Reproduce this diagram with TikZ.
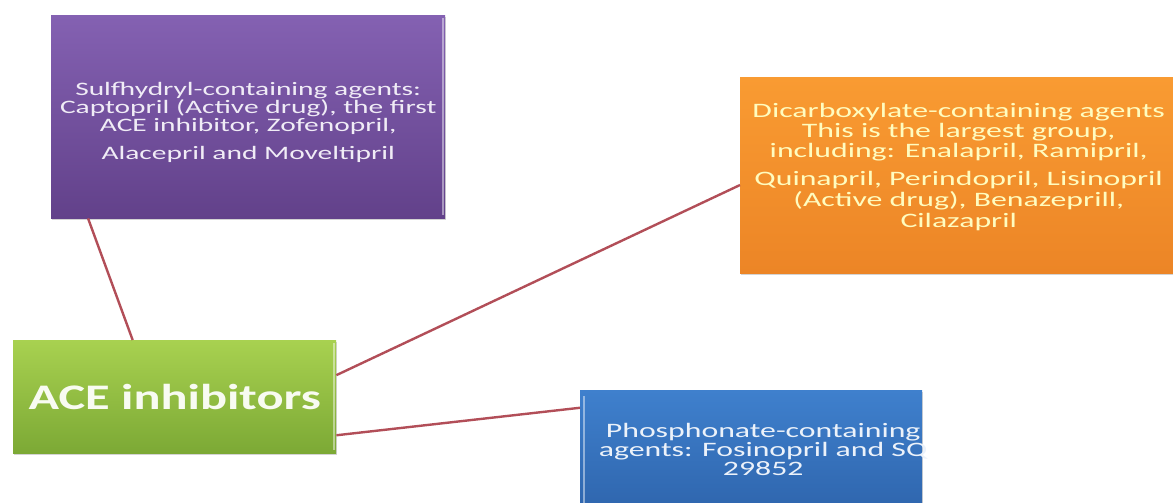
\documentclass[tikz,border=0pt]{standalone}
\usepackage{fontspec}
\setmainfont{Carlito}
\newfontfamily\widefont[FakeStretch=1.55]{Carlito}
\newfontfamily\greenfont[FakeStretch=1.4]{Carlito}
\usetikzlibrary{calc,shadows}
\definecolor{purpTop}{HTML}{8461B2}
\definecolor{purpBot}{HTML}{62418A}
\definecolor{orTop}{HTML}{F99B32}
\definecolor{orBot}{HTML}{EC8526}
\definecolor{grTop}{HTML}{A8D150}
\definecolor{grBot}{HTML}{7CA935}
\definecolor{blTop}{HTML}{3F80CD}
\definecolor{blBot}{HTML}{2F66AE}
\definecolor{linkred}{HTML}{B24E58}
\newcommand{\shiftedtext}[3]{\raisebox{#2}[0pt][0pt]{\makebox[0pt]{\hspace{#1}\begin{tabular}{@{}c@{}}#3\end{tabular}}}}
\tikzset{
  boxbase/.style={rectangle, anchor=north west, inner sep=0pt, align=center,
    drop shadow={shadow xshift=1pt, shadow yshift=-2pt, opacity=0.35}},
  purplebox/.style={boxbase, top color=purpTop, bottom color=purpBot, text=white!88!purpTop},
  orangebox/.style={boxbase, top color=orTop, bottom color=orBot, text=yellow!25!white},
  greenbox/.style={boxbase, top color=grTop, bottom color=grBot, text=white!92!grTop},
  bluebox/.style={boxbase, top color=blTop, bottom color=blBot, text=white!90!blTop},
  link/.style={draw=linkred, line width=2.4pt},
  gloss/.style={line width=2pt, draw opacity=0.45}
}
\begin{document}
\begin{tikzpicture}[x=1pt,y=-1pt]
\useasboundingbox (0,0) rectangle (1173,503);
\node[purplebox, minimum width=394pt, minimum height=203pt,
      font=\widefont\fontsize{19}{18.5}\selectfont] (p) at (51,15)
  {\shiftedtext{0pt}{-11pt}{Sulfhydryl-containing agents:\\[-1pt]
   Captopril (Active drug), the first\\[-1pt]
   ACE inhibitor, Zofenopril,\\[9pt]
   Alacepril and Moveltipril}};
\node[orangebox, minimum width=433pt, minimum height=196pt,
      font=\widefont\fontsize{20.5}{20}\selectfont] (o) at (740,77)
  {\shiftedtext{4pt}{2pt}{Dicarboxylate-containing agents\\
   This is the largest group,\\
   including: Enalapril, Ramipril,\\[8pt]
   Quinapril, Perindopril, Lisinopril\\
   (Active drug), Benazeprill,\\
   Cilazapril}};
\node[greenbox, minimum width=323pt, minimum height=113pt,
      font=\greenfont\fontsize{36}{40}\selectfont\bfseries] (g) at (13,340)
  {ACE inhibitors};
\node[bluebox, minimum width=342pt, minimum height=118pt,
      font=\widefont\fontsize{20.5}{19}\selectfont] (b) at (580,390)
  {\shiftedtext{24pt}{-8pt}{Phosphonate-containing\\[-1pt]
   agents: Fosinopril and SQ\\[-1pt]
   29852}};
% light edge highlights
\draw[gloss, white] ([xshift=-2pt,yshift=-3pt]g.north east) -- ([xshift=-2pt,yshift=3pt]g.south east);
\draw[gloss, white] ([xshift=4pt,yshift=-6pt]b.north west) -- ([xshift=4pt]b.south west);
\draw[gloss, white] ([xshift=-2pt,yshift=-3pt]p.north east) -- ([xshift=-2pt,yshift=3pt]p.south east);
% connectors
\draw[link] ($(p.south west)!0.094!(p.south east)$) -- ($(g.north west)!0.37!(g.north east)$);
\draw[link] ($(g.north east)!0.31!(g.south east)$) -- ($(o.north west)!0.55!(o.south west)$);
\draw[link] ($(g.north east)!0.84!(g.south east)$) -- ($(b.north west)!0.15!(b.south west)$);
\end{tikzpicture}
\end{document}
